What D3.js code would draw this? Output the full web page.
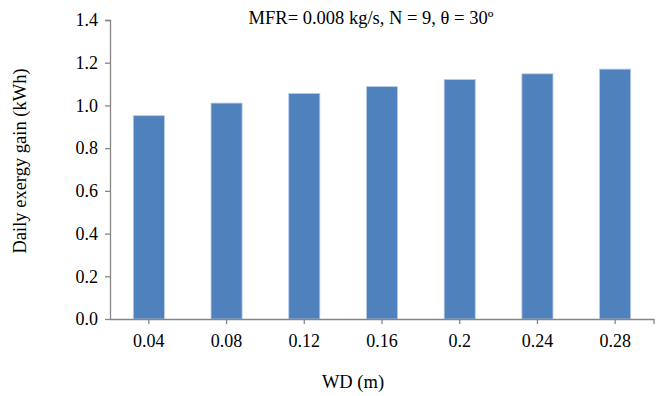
<!DOCTYPE html>
<html>
<head>
<meta charset="utf-8">
<script src="https://cdn.jsdelivr.net/npm/d3@7"></script>
<style>
  body { margin: 0; background: #fff; }
  text { font-family: "Liberation Serif", "Times New Roman", serif; fill: #000; }
</style>
</head>
<body>
<svg id="chart" width="657" height="396"></svg>
<script>
// data
var categories = ["0.04", "0.08", "0.12", "0.16", "0.2", "0.24", "0.28"];
var values = [0.952, 1.011, 1.056, 1.088, 1.121, 1.148, 1.170];
var yTicks = [0, 0.2, 0.4, 0.6, 0.8, 1.0, 1.2, 1.4];

var svg = d3.select("#chart");
var mLeft = 110, mRight = 654, mTop = 20, mBottom = 319;

var x = d3.scaleBand().domain(categories).range([mLeft, mRight]).paddingInner(0.6).paddingOuter(0.3);
var y = d3.scaleLinear().domain([0, 1.4]).range([mBottom, mTop]);

// bars
svg.selectAll("rect.bar")
  .data(values)
  .enter().append("rect")
  .attr("class", "bar")
  .attr("x", function(d, i){ return x(categories[i]); })
  .attr("y", function(d){ return y(d); })
  .attr("width", x.bandwidth())
  .attr("height", function(d){ return y(0) - y(d); })
  .attr("fill", "#4f81bd")
  .attr("stroke", "#b9cde5")
  .attr("stroke-width", 0.8);

// y axis
var yAxis = svg.append("g")
  .attr("transform", "translate(" + mLeft + ",0)")
  .call(d3.axisLeft(y).tickValues(yTicks).tickFormat(d3.format(".1f")).tickSize(5).tickPadding(7));

// x axis, ticks under the bar centres plus one at the far end
var xAxis = svg.append("g")
  .attr("transform", "translate(0," + mBottom + ")")
  .call(d3.axisBottom(x).tickSize(5).tickPadding(10));
xAxis.append("line")
  .attr("x1", mRight).attr("x2", mRight)
  .attr("y1", 0).attr("y2", 5);

svg.selectAll(".domain")
  .attr("stroke", "#868686")
  .attr("stroke-width", 1.3);
svg.selectAll("g line")
  .attr("stroke", "#868686")
  .attr("stroke-width", 1.3);
svg.selectAll(".tick text")
  .style("font-family", "'Liberation Serif', 'Times New Roman', serif")
  .style("font-size", "18px")
  .attr("fill", "#000");

// domains: no outer ticks except the top one on y
yAxis.select(".domain").attr("d", "M-5," + (y(1.4) + 0.5) + "H0.5V" + mBottom);
xAxis.select(".domain").attr("d", "M" + mLeft + ",0.5H" + mRight);

// title
svg.append("text")
  .attr("x", 371)
  .attr("y", 24)
  .attr("text-anchor", "middle")
  .style("font-size", "18.5px")
  .text("MFR= 0.008 kg/s, N = 9, θ = 30º");

// axis titles
svg.append("text")
  .attr("x", 353)
  .attr("y", 388)
  .attr("text-anchor", "middle")
  .style("font-size", "18.5px")
  .text("WD (m)");

svg.append("text")
  .attr("transform", "translate(26,161) rotate(-90)")
  .attr("text-anchor", "middle")
  .style("font-size", "18.5px")
  .text("Daily exergy gain (kWh)");
</script>
</body>
</html>
